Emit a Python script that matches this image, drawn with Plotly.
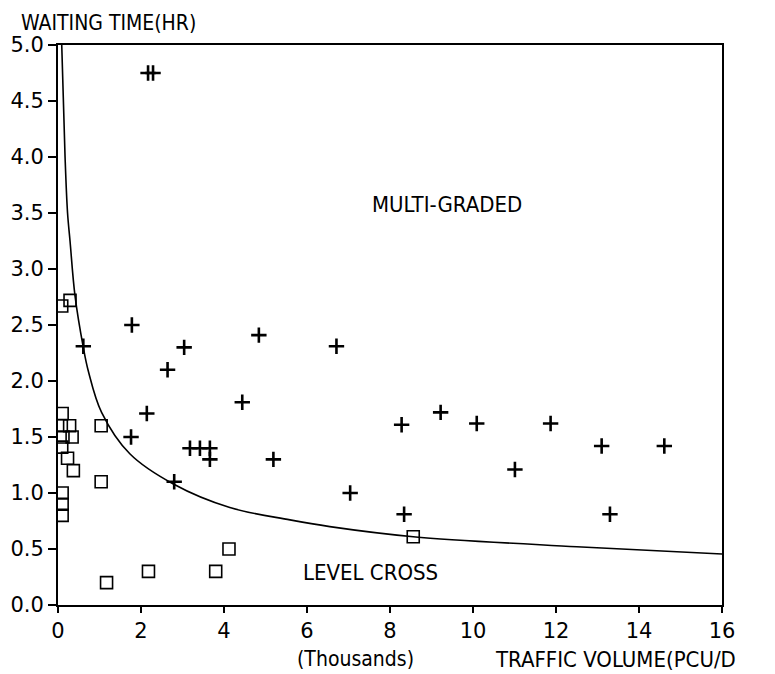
import plotly.graph_objects as go

# ---- data ----
level_x = [0.09, 0.29, 0.10, 0.08, 0.28, 0.12, 0.34, 0.09, 0.23, 0.37, 0.10, 0.10, 0.10, 1.04, 1.04, 1.17, 2.18, 3.80, 4.12, 8.56]
level_y = [2.67, 2.72, 1.71, 1.60, 1.60, 1.50, 1.50, 1.41, 1.31, 1.20, 1.00, 0.90, 0.80, 1.60, 1.10, 0.20, 0.30, 0.30, 0.50, 0.61]

multi_x = [2.17, 2.29, 0.61, 1.78, 3.04, 2.64, 4.84, 6.71, 2.14, 1.76, 4.44, 3.18, 3.42, 3.66, 3.66, 5.19, 2.80,
           8.28, 9.22, 10.09, 11.87, 11.01, 7.04, 8.34, 13.10, 14.61, 13.30]
multi_y = [4.75, 4.75, 2.31, 2.50, 2.30, 2.10, 2.41, 2.31, 1.71, 1.50, 1.81, 1.40, 1.40, 1.40, 1.30, 1.30, 1.10,
           1.61, 1.72, 1.62, 1.62, 1.21, 1.00, 0.81, 1.42, 1.42, 0.81]

curve_x = [0.09, 0.17, 0.23, 0.29, 0.41, 0.61, 0.73, 1.05, 1.73, 2.78, 4.14, 5.59, 6.55, 8.56, 12.5, 16.0]
curve_y = [5.00, 4.00, 3.50, 3.25, 2.76, 2.30, 2.09, 1.72, 1.35, 1.08, 0.87, 0.76, 0.70, 0.61, 0.52, 0.455]

x_ticks = [0, 2, 4, 6, 8, 10, 12, 14, 16]
y_ticks = [0.0, 0.5, 1.0, 1.5, 2.0, 2.5, 3.0, 3.5, 4.0, 4.5, 5.0]

# ---- layout constants (pixels); page body adds an 8px offset ----
OFF = 8
W, H = 775 - OFF, 674 - OFF
L, T = 58 - OFF, 45 - OFF
R = W - (722 - OFF)
B = H - (605 - OFF)
PW, PH = W - L - R, H - T - B


def px(xp):
    # screenshot pixel x -> paper coordinate
    return (xp - OFF - L) / PW


def py(yp):
    # screenshot pixel y -> paper coordinate
    return (H - B - (yp - OFF)) / PH


label_font = "DejaVu Sans Condensed, Liberation Sans Narrow, Liberation Sans, sans-serif"
tickfont = dict(family="DejaVu Sans, sans-serif", size=21, color="black")

fig = go.Figure()
fig.add_trace(go.Scatter(x=curve_x, y=curve_y, mode="lines", line=dict(color="black", width=1.6, shape="spline"),
                         showlegend=False, hoverinfo="skip"))
fig.add_trace(go.Scatter(x=level_x, y=level_y, mode="markers",
                         marker=dict(symbol="square-open", size=12, color="black", line=dict(width=1.6)),
                         showlegend=False))
fig.add_trace(go.Scatter(x=multi_x, y=multi_y, mode="markers",
                         marker=dict(symbol="cross-thin-open", size=11, color="black", line=dict(width=2.6, color="black")),
                         showlegend=False))

fig.add_annotation(x=9.37, y=3.58, xref="x", yref="y", text="MULTI-GRADED", showarrow=False,
                   font=dict(family=label_font, size=22, color="black"))
fig.add_annotation(x=7.54, y=0.29, xref="x", yref="y", text="LEVEL CROSS", showarrow=False,
                   font=dict(family=label_font, size=22, color="black"))
fig.add_annotation(x=px(19), y=py(23), xref="paper", yref="paper", text="WAITING TIME(HR)", showarrow=False,
                   xanchor="left", yanchor="middle", font=dict(family=label_font, size=21, color="black"))
fig.add_annotation(x=px(355), y=py(659), xref="paper", yref="paper", text="(Thousands)", showarrow=False,
                   xanchor="center", yanchor="middle", font=dict(family=label_font, size=21, color="black"))
fig.add_annotation(x=px(493), y=py(659), xref="paper", yref="paper", text="TRAFFIC VOLUME(PCU/D", showarrow=False,
                   xanchor="left", yanchor="middle", font=dict(family=label_font, size=22, color="black"))

fig.update_xaxes(range=[0, 16], tickvals=x_ticks, ticktext=[str(v) for v in x_ticks], showgrid=False, zeroline=False,
                 showline=True, linecolor="black", linewidth=1.6, mirror=True, ticks="outside", ticklen=6,
                 tickcolor="black", tickwidth=1.5, tickfont=tickfont)
fig.update_yaxes(range=[0, 5], tickvals=y_ticks, ticktext=[f"{v:.1f}" for v in y_ticks], showgrid=False,
                 zeroline=False, showline=True, linecolor="black", linewidth=1.8, mirror=True, ticks="outside",
                 ticklen=8, tickcolor="black", tickwidth=1.5, tickfont=tickfont)

fig.update_layout(width=W, height=H, margin=dict(l=L, r=R, t=T, b=B, autoexpand=False),
                  plot_bgcolor="white", paper_bgcolor="white", showlegend=False)

fig.write_html("out.html")
